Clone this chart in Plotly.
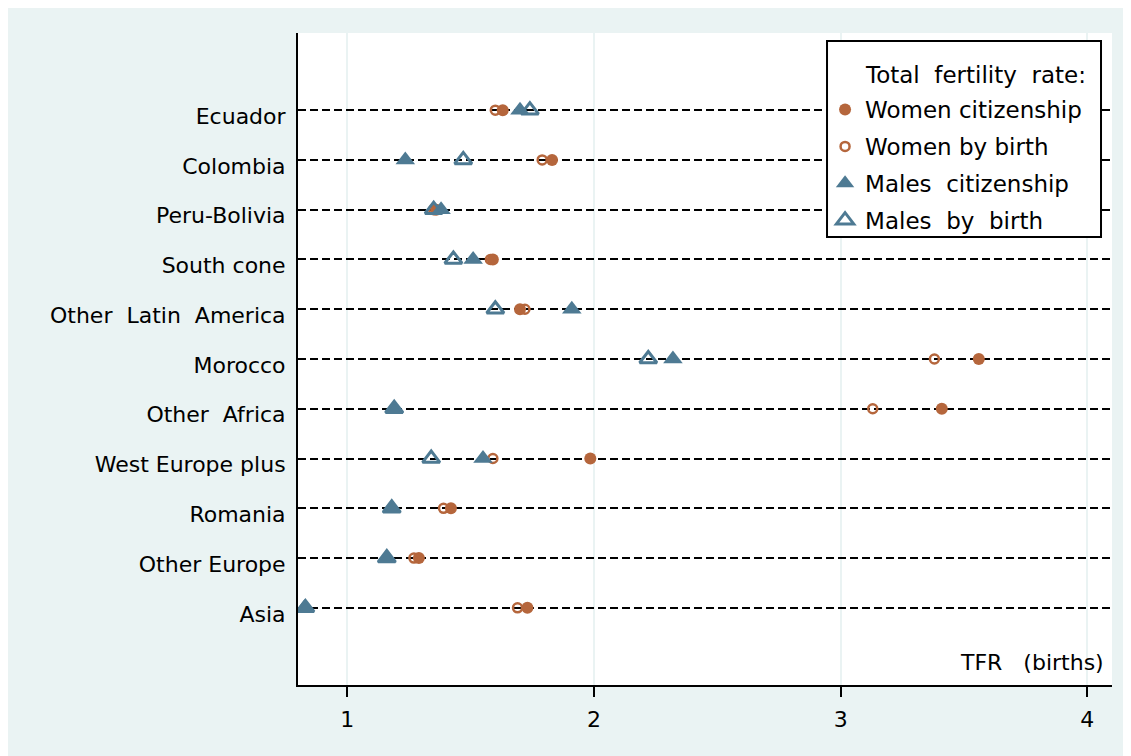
import plotly.graph_objects as go

NB = "\u00a0"
categories = ["Ecuador", "Colombia", "Peru-Bolivia", "South cone",
              "Other" + NB + " Latin" + NB + " America", "Morocco",
              "Other" + NB + " Africa", "West Europe plus", "Romania",
              "Other Europe", "Asia"]
positions = list(range(1, len(categories) + 1))

women_citizenship = [1.63, 1.83, 1.36, 1.59, 1.70, 3.56, 3.41, 1.985, 1.42, 1.29, 1.73]
women_birth       = [1.60, 1.79, 1.35, 1.58, 1.72, 3.38, 3.13, 1.59, 1.39, 1.27, 1.69]
males_citizenship = [1.70, 1.235, 1.38, 1.51, 1.91, 2.32, 1.19, 1.55, 1.18, 1.16, 0.826]
males_birth       = [1.74, 1.47, 1.35, 1.43, 1.60, 2.22, 1.19, 1.34, 1.18, 1.16, 0.83]

x_ticks = [1, 2, 3, 4]
reference_tfr = 2

ORANGE = "#B5663C"
BLUE = "#4E7A93"
PANEL = "#EAF3F3"
FONT = "DejaVu Sans"

fig = go.Figure()
fig.add_trace(go.Scatter(
    x=women_citizenship, y=positions, mode="markers", name="Women citizenship",
    marker=dict(symbol="circle", size=12, color=ORANGE, line=dict(width=0)),
    legendgroup="a"))
fig.add_trace(go.Scatter(
    x=women_birth, y=positions, mode="markers", name="Women by birth",
    marker=dict(symbol="circle-open", size=9, color=ORANGE, line=dict(width=2.5, color=ORANGE)),
    legendgroup="b"))
fig.add_trace(go.Scatter(
    x=males_citizenship, y=positions, mode="markers", name="Males" + NB + " citizenship",
    marker=dict(symbol="triangle-up", size=17, color=BLUE, line=dict(width=0)),
    legendgroup="c"))
fig.add_trace(go.Scatter(
    x=males_birth, y=positions, mode="markers", name="Males" + NB + " by" + NB + " birth",
    marker=dict(symbol="triangle-up-open", size=15, color=BLUE, line=dict(width=3, color=BLUE)),
    legendgroup="d"))

# reference line
fig.add_shape(type="line", xref="x", yref="paper", x0=reference_tfr, x1=reference_tfr,
              y0=0, y1=1, line=dict(color="#D42A4C", width=2), layer="below")

# legend box
fig.add_shape(type="rect", xref="paper", yref="paper", x0=0.6499, x1=0.9865,
              y0=0.6871, y1=0.9877, fillcolor="white",
              line=dict(color="black", width=2), layer="above")
fig.add_annotation(text="Total" + NB + " fertility" + NB + " rate:", xref="paper", yref="paper",
                   x=0.6941, y=0.9356, xanchor="left", yanchor="middle", showarrow=False,
                   font=dict(family=FONT, size=23, color="black"))

fig.add_annotation(text="TFR" + NB + NB + " (births)", xref="paper", yref="paper",
                   x=0.993, y=0.012, xanchor="right", yanchor="bottom", showarrow=False,
                   font=dict(family=FONT, size=22, color="black"))

fig.update_layout(
    width=1116, height=748,
    margin=dict(l=290, r=12, t=25, b=71),
    paper_bgcolor=PANEL, plot_bgcolor="white",
    font=dict(family=FONT, size=22, color="black"),
    showlegend=True,
    legend=dict(
        x=0.6475, y=0.9156, xanchor="left", yanchor="top",
        bgcolor="rgba(0,0,0,0)", borderwidth=0,
        font=dict(family=FONT, size=23, color="black"),
        tracegroupgap=4, itemsizing="trace",
    ),
    xaxis=dict(
        range=[0.80, 4.10], tickvals=x_ticks, ticktext=[str(t) for t in x_ticks],
        showgrid=True, gridcolor=PANEL, gridwidth=2,
        showline=True, linecolor="black", linewidth=2,
        ticks="outside", ticklen=10, tickwidth=2, tickcolor="black",
        ticklabelstandoff=4, tickfont=dict(size=22), zeroline=False,
    ),
    yaxis=dict(
        range=[12.55, -0.55], tickvals=positions, ticktext=categories,
        showgrid=True, gridcolor="black", gridwidth=2, griddash="8px,4px",
        showline=True, linecolor="black", linewidth=2,
        ticks="", ticklabelstandoff=6, ticklabelshift=-6,
        tickfont=dict(size=22), zeroline=False,
    ),
)

fig.write_html("out.html")
